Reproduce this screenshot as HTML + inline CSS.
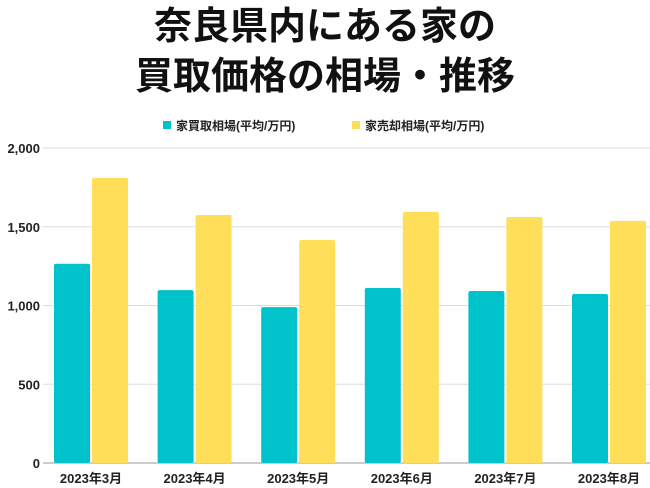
<!DOCTYPE html>
<html><head><meta charset="utf-8"><style>
body{margin:0;width:650px;height:488px;background:#fff;overflow:hidden;font-family:"Liberation Sans","Noto Sans CJK JP",sans-serif;}
#t{position:absolute;top:2px;left:0;width:650px;text-align:center;font-weight:bold;font-size:38px;line-height:50px;color:#111;}
</style></head><body>
<div id="t">奈良県内にある家の<br>買取価格の相場・推移</div>
<svg id="c" width="650" height="488" style="position:absolute;left:0;top:0"></svg>
<script>
const categories=["2023年3月","2023年4月","2023年5月","2023年6月","2023年7月","2023年8月"];
const buyValues=[1265,1098,990,1111,1092,1073];
const sellValues=[1810,1575,1416,1594,1562,1537];
const tickValues=[0,500,1000,1500,2000];
const tickLabels=["0","500","1,000","1,500","2,000"];
const svg=document.getElementById('c');const NS="http://www.w3.org/2000/svg";
function mk(t,a,p){const e=document.createElementNS(NS,t);for(const k in a)e.setAttribute(k,a[k]);(p||svg).appendChild(e);return e;}
const y0=463,yTop=148,ymax=2000;
const y=v=>y0-(v/ymax)*(y0-yTop);
const x=i=>43+i*103.6;
tickValues.forEach((v,i)=>{
 const l=mk('line',{x1:43,x2:650,y1:y(v),y2:y(v),stroke:v===0?'#ccc':'#ddd','stroke-width':v===0?2:1});
 
 
 const t=mk('text',{x:40,y:y(v)+5,'text-anchor':'end','font-size':13,'font-weight':'bold',fill:'#222'});
 t.textContent=tickLabels[i];
 
 
});
categories.forEach((c,i)=>{
 const b=mk('rect',{x:x(i)+11,y:y(buyValues[i]),width:36,height:y0-y(buyValues[i]),fill:'#00C2CB',rx:2});
 
 
 const s=mk('rect',{x:x(i)+49,y:y(sellValues[i]),width:36,height:y0-y(sellValues[i]),fill:'#FFDE59',rx:2});
 
 
 const t=mk('text',{x:x(i)+48,y:483,'text-anchor':'middle','font-size':13,'font-weight':'bold',fill:'#222'});
 t.textContent=c;
 
 
});
const lg=[["#00C2CB","家買取相場(平均/万円)",163],["#FFDE59","家売却相場(平均/万円)",352]];
lg.forEach(d=>{
 const g=mk('g',{});
 
 
 mk('rect',{x:d[2],y:121,width:8,height:8,fill:d[0]},g);
 const t=mk('text',{x:d[2]+13,y:130,'font-size':12,'font-weight':'bold',fill:'#222'},g);
 t.textContent=d[1];
});
</script>
</body></html>
